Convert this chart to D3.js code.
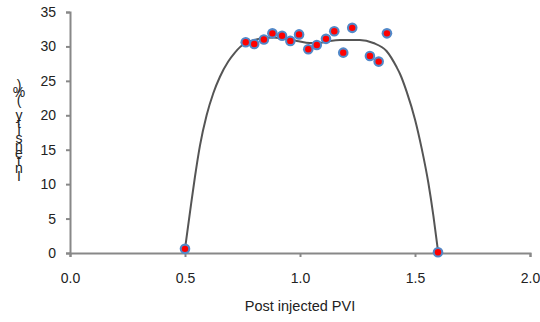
<!DOCTYPE html>
<html>
<head>
<meta charset="utf-8">
<script src="https://cdn.jsdelivr.net/npm/d3@7"></script>
<style>
  body { margin: 0; background: #fff; }
  text { font-family: "Liberation Sans", Arial, sans-serif; }
</style>
</head>
<body>
<div id="chart"></div>
<script>
// measured points
var pvi = [0.50, 0.764, 0.801, 0.843, 0.880, 0.922, 0.958, 0.996, 1.036, 1.073, 1.113, 1.149, 1.188, 1.227, 1.304, 1.342, 1.378, 1.60];
var intensity = [0.6, 30.6, 30.35, 31.0, 31.9, 31.55, 30.8, 31.75, 29.6, 30.2, 31.1, 32.2, 29.1, 32.7, 28.6, 27.8, 31.9, 0.1];

// fitted curve
var fitX = [0.50, 0.522, 0.543, 0.565, 0.594, 0.623, 0.652, 0.688, 0.717, 0.739, 0.754, 0.797, 0.84, 0.884, 0.928, 0.986, 1.043, 1.087, 1.13, 1.174, 1.26, 1.319, 1.377, 1.42, 1.435, 1.464, 1.50, 1.529, 1.558, 1.58, 1.60];
var fitY = [0.6, 6.0, 11.0, 15.6, 20.0, 23.2, 25.6, 27.8, 29.1, 29.9, 30.3, 30.9, 31.2, 31.3, 31.1, 30.8, 30.5, 30.5, 30.8, 30.95, 30.95, 30.5, 29.3, 27.0, 26.0, 23.4, 19.4, 15.2, 10.2, 5.4, 0.3];

var xTicks = [0, 0.5, 1.0, 1.5, 2.0];
var yTicks = [0, 5, 10, 15, 20, 25, 30, 35];
var xTitle = "Post injected PVI";
var yTitle = "Intensity (%)";

var width = 540, height = 322;
var svg = d3.select("#chart").append("svg")
  .attr("width", width).attr("height", height);

var x = d3.scaleLinear().domain([0, 2]).range([70, 530]);
var y = d3.scaleLinear().domain([0, 35]).range([253, 12]);

var axisColor = "#888";

var xAxis = svg.append("g")
  .attr("transform", "translate(0," + y(0) + ")")
  .call(d3.axisBottom(x).tickValues(xTicks).tickFormat(d3.format(".1f")).tickSize(4).tickPadding(16));
var yAxis = svg.append("g")
  .attr("transform", "translate(" + x(0) + ",0)")
  .call(d3.axisLeft(y).tickValues(yTicks).tickSize(4).tickPadding(10));

[xAxis, yAxis].forEach(function(g){
  g.select(".domain").attr("stroke", axisColor).attr("stroke-width", 2);
  g.selectAll(".tick line").attr("stroke", axisColor).attr("stroke-width", 2);
  g.selectAll(".tick text").attr("fill", "#222").style("font-size", "14px")
    .style("font-family", "'Liberation Sans', Arial, sans-serif");
});

// fitted line
var line = d3.line()
  .x(function(d){ return x(d[0]); })
  .y(function(d){ return y(d[1]); })
  .curve(d3.curveMonotoneX);

svg.append("path")
  .datum(d3.zip(fitX, fitY))
  .attr("d", line)
  .attr("fill", "none")
  .attr("stroke", "#555")
  .attr("stroke-width", 2);

var pts = d3.zip(pvi, intensity);
svg.selectAll("circle.outer").data(pts).enter()
  .append("circle").attr("class", "outer")
  .attr("cx", function(d){ return x(d[0]); })
  .attr("cy", function(d){ return y(d[1]); })
  .attr("r", 5.3)
  .attr("fill", "#5288c8");
svg.selectAll("circle.inner").data(pts).enter()
  .append("circle").attr("class", "inner")
  .attr("cx", function(d){ return x(d[0]); })
  .attr("cy", function(d){ return y(d[1]); })
  .attr("r", 3.2)
  .attr("fill", "#ff0000");

// x title
svg.append("text")
  .attr("x", 300).attr("y", 311)
  .attr("text-anchor", "middle")
  .style("font-size", "14.5px")
  .attr("fill", "#222")
  .text(xTitle);

// y title: stacked characters, bottom to top
var chars = yTitle.split("");
svg.append("g").selectAll("text").data(chars).enter()
  .append("text")
  .attr("x", 19)
  .attr("y", function(d, i){ return 181 - i * 7.6; })
  .attr("text-anchor", "middle")
  .style("font-size", "14px")
  .attr("fill", "#222")
  .text(function(d){ return d; });
</script>
</body>
</html>
